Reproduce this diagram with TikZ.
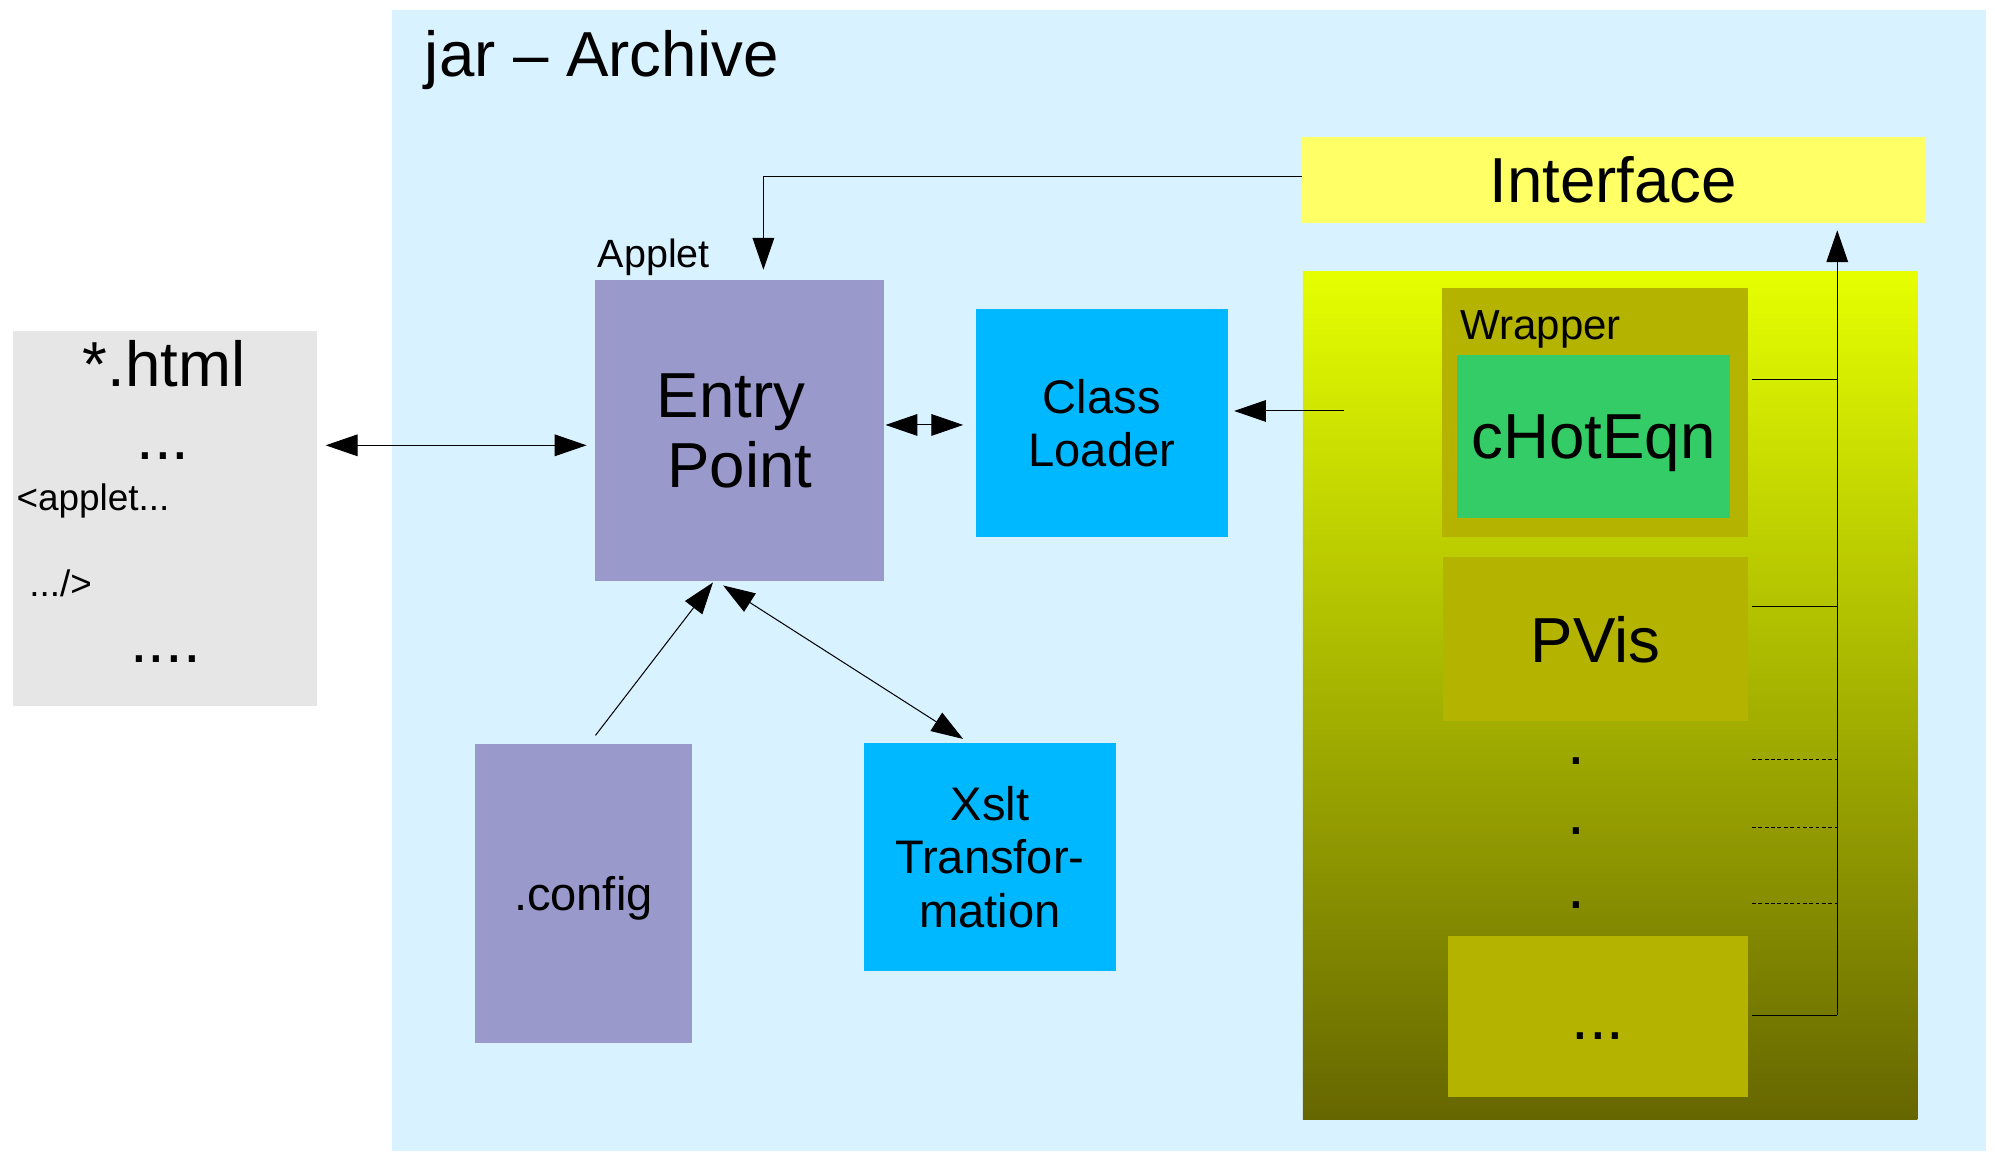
\documentclass[tikz,border=0pt]{standalone}
\usepackage{fontspec}
\setmainfont{Liberation Sans}
\usetikzlibrary{arrows.meta,calc}
\definecolor{jarbg}{HTML}{D9F2FF}
\definecolor{htmlbg}{HTML}{E6E6E6}
\definecolor{epc}{HTML}{9999CC}
\definecolor{clc}{HTML}{00B8FF}
\definecolor{ifc}{HTML}{FFFF66}
\definecolor{ytop}{HTML}{E6FF00}
\definecolor{ybot}{HTML}{666600}
\definecolor{olivebox}{HTML}{B3B300}
\definecolor{grn}{HTML}{33CC66}
\newcommand\FBig{\fontsize{50}{55}\selectfont}
\newcommand\FMed{\fontsize{37}{42}\selectfont}
\newcommand\FSm{\fontsize{31}{36}\selectfont}
\newcommand\FWr{\fontsize{33}{38}\selectfont}
\newcommand\FTiny{\fontsize{29}{34}\selectfont}
\begin{document}
\begin{tikzpicture}[x=1pt,y=-1pt,
  box/.style={inner sep=0pt, outer sep=0pt, align=center},
  lbl/.style={inner sep=0pt, outer sep=0pt},
  tip/.tip={Triangle[length=25pt,width=17pt]},
  arr/.style={line width=0.8pt, -tip},
  darr/.style={line width=0.8pt, tip-tip},
  ln/.style={line width=0.8pt},
  dln/.style={line width=0.7pt, dash pattern=on 3pt off 2pt}]
\useasboundingbox (0,0) rectangle (1568,905);
\fill[white] (0,0) rectangle (1568,905);
% archive background
\node[box, fill=jarbg, minimum width=1253pt, minimum height=897pt] (jar) at (934.5,456.5) {};
\node[lbl, anchor=base west, font=\FBig] (title) at (334,60) {jar – Archive};
% html
\node[box, fill=htmlbg, minimum width=239pt, minimum height=295pt] (html) at (129.5,407.5) {};
\node[lbl, anchor=base, font=\FBig] (h1) at (129,304) {*.html};
\node[lbl, anchor=base, font=\FBig] (h2) at (128,361) {...};
\node[lbl, anchor=base west, font=\FTiny] (h3) at (13,401) {<applet...};
\node[lbl, anchor=base west, font=\FTiny] (h4) at (23,469) {.../>};
\node[lbl, anchor=base, font=\FBig] (h5) at (130,521) {....};
% entry point
\node[box, fill=epc, minimum width=227pt, minimum height=237pt, font=\FBig] (ep) at (581.5,338.5) {Entry\hspace*{0.28em}\\Point};
\node[lbl, anchor=base west, font=\FSm] (applet) at (470,210) {Applet};
% class loader
\node[box, fill=clc, minimum width=198pt, minimum height=179pt, font=\FMed] (cl) at (866,332.5) {Class\\Loader};
% interface
\node[box, fill=ifc, minimum width=490pt, minimum height=67pt, font=\FBig] (iface) at (1268,141.5) {Interface};
% yellow gradient container
\node[box, top color=ytop, bottom color=ybot, minimum width=483pt, minimum height=667pt] (ybox) at (1265.5,546.5) {};
\node[box, fill=olivebox, minimum width=241pt, minimum height=196pt] (wrap) at (1253.5,324) {};
\node[lbl, anchor=base west, font=\FWr] (wraplbl) at (1148,267) {Wrapper};
\node[box, fill=grn, minimum width=215pt, minimum height=128pt, font=\FBig, text depth=0pt] (chot) at (1252.5,343) {cHotEqn};
\node[box, fill=olivebox, minimum width=240pt, minimum height=129pt, font=\FBig] (pvis) at (1254,502.5) {PVis};
\node[lbl, anchor=base, font=\FBig] (d1) at (1239,601) {.};
\node[lbl, anchor=base, font=\FBig] (d2) at (1239,656) {.};
\node[lbl, anchor=base, font=\FBig] (d3) at (1239,714) {.};
\node[box, fill=olivebox, minimum width=236pt, minimum height=126pt] (more) at (1256,799) {};
\node[lbl, anchor=base, font=\FBig] (moretxt) at (1256,817) {...};
% config and xslt
\node[box, fill=epc, minimum width=171pt, minimum height=235pt, font=\FMed, text depth=0pt] (config) at (458.5,702.5) {.config};
\node[box, fill=clc, minimum width=198pt, minimum height=179pt, font=\FMed] (xslt) at (778,673.5) {Xslt\\Transfor-\\mation};
% connectors
\draw[darr, shorten <=7pt, shorten >=7pt] (html.east |- 0,350) -- (ep.west |- 0,350);
\draw[darr, shorten <=1pt, shorten >=10pt] (ep.east |- 0,334) -- (cl.west |- 0,334);
\coordinate (ysrc) at (1056,323);
\draw[arr, shorten >=5pt] (ysrc) -- (cl.east |- ysrc);
\coordinate (epin) at (600,220);
\draw[arr, shorten >=8pt] (iface.west |- 0,139) -| (epin);
\coordinate (cfgout) at (468,578);
\coordinate (epbl) at (561,457);
\draw[arr, shorten >=1pt] (cfgout) -- (epbl);
\coordinate (epbr) at (565,458);
\coordinate (xsltin) at (762,584);
\draw[darr, shorten <=4pt, shorten >=6pt] (epbr) -- (xsltin);
% bus to interface
\coordinate (busb) at (1444,798);
\coordinate (bust) at (1444,175);
\draw[arr, shorten >=6pt] (busb) -- (bust);
\draw[ln] ([xshift=3pt]wrap.east |- 0,298) -- (1444,298);
\draw[ln] ([xshift=3pt]pvis.east |- 0,477) -- (1444,477);
\draw[ln] ([xshift=3pt]more.east |- 0,798) -- (busb);
\draw[dln] ([xshift=3pt]pvis.east |- 0,597) -- (1444,597);
\draw[dln] ([xshift=3pt]pvis.east |- 0,650) -- (1444,650);
\draw[dln] ([xshift=3pt]pvis.east |- 0,710) -- (1444,710);
\end{tikzpicture}
\end{document}
